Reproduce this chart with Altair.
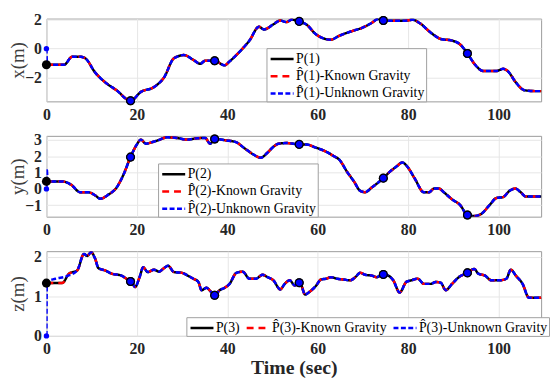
import altair as alt
import pandas as pd

# ---------------- data ----------------
T1 = [0, 3.9, 5.7, 7.5, 8.6, 10.8, 13, 15.5, 18.6, 20.9, 23.8, 26, 28.2, 30.4, 32.5, 34, 35.1,
      37.2, 39.4, 40.5, 42.7, 44.9, 47, 48.1, 50.3, 51.7, 53.1, 54.2, 55.9, 57.5, 59.6, 61.1,
      62.9, 64.7, 67.6, 69.8, 71.9, 73.4, 74.5, 76.3, 79.2, 81, 82.5, 85, 87.2, 89.7, 91.5,
      93.1, 94.8, 96.6, 99.5, 101, 102, 103.8, 105.7, 108.2, 111.4]
X1 = [-1.1, -1.1, -0.55, -0.55, -0.66, -1.64, -2.3, -2.84, -3.56, -2.95, -2.62, -1.97, -0.66,
      -0.44, -0.77, -1.03, -0.83, -0.83, -1.14, -0.87, -0.22, 0.55, 1.49, 1.31, 1.68, 1.92,
      1.81, 1.97, 1.86, 1.64, 0.98, 0.72, 0.61, 0.87, 1.2, 1.42, 1.75, 2.03, 1.92, 1.9, 1.9,
      1.97, 1.75, 1.09, 0.66, 0.55, 0.28, -0.33, -1.1, -1.53, -1.53, -1.38, -1.53, -2.3,
      -2.84, -2.9, -2.9]

T2 = [0, 3.5, 5.4, 7.5, 9.3, 10.8, 11.9, 13.7, 15.5, 17, 18.6, 19.9, 20.9, 22, 23.2, 24.6,
      26.7, 28.9, 31.1, 33.3, 35.1, 36.2, 37.2, 39.8, 41.9, 43.8, 45.6, 47.4, 48.8, 50.2,
      51.3, 53.1, 55.9, 57.5, 59.6, 61.8, 63.6, 64.7, 66.5, 68, 69.4, 70.5, 72, 74.5, 75.9,
      77.4, 78.7, 79.9, 81.4, 83.5, 84.6, 85.7, 86.8, 87.9, 89.7, 91.5, 93.1, 94.8, 96.2,
      98, 99.5, 101, 102.4, 103.7, 104.9, 106, 108.2, 111.4]
Y2 = [0.46, 0.46, 0.27, -0.21, -0.21, -0.4, -0.6, -0.35, 0.08, 0.85, 1.95, 2.68, 3.02, 2.77,
      2.85, 2.97, 3.16, 3.12, 3.02, 3.1, 3.12, 2.77, 3.06, 2.97, 2.87, 2.49, 2.14, 1.91, 2.2,
      2.58, 2.77, 2.81, 2.73, 2.72, 2.53, 2.29, 2.0, 1.81, 1.04, 0.46, -0.12, -0.2, 0.1,
      0.66, 1.04, 1.37, 1.62, 1.33, 0.66, -0.21, -0.21, 0.02, 0.02, -0.21, -0.64, -0.99,
      -1.6, -1.66, -1.52, -0.99, -0.56, -0.5, -0.12, 0.02, -0.21, -0.46, -0.46, -0.46]

T3 = [0, 3.5, 5, 6.8, 8.3, 9, 9.9, 10.8, 11.5, 13, 14.4, 16.6, 17.7, 18.8, 19.6, 20.6, 21.4,
      22.4, 23.8, 24.9, 26, 26.9, 28.2, 30, 31.4, 32.5, 33.6, 34.3, 35.4, 36.3, 37.2, 38.3,
      39.4, 40.5, 42, 43.4, 44.9, 46.3, 47.8, 48.9, 50.2, 51.7, 52.7, 53.8, 54.9, 55.9,
      56.4, 57.2, 58.2, 59.6, 60.7, 61.8, 62.9, 64.3, 65.8, 67.2, 68.3, 69.4, 70.5, 72, 73,
      74.5, 75.6, 76.7, 78.1, 79.6, 80.7, 82.1, 83.5, 85, 86.1, 87.2, 88.3, 89.7, 91.2,
      93.1, 94.6, 95.5, 97, 98.4, 100.2, 101.7, 102.7, 103.8, 105.3, 106.7, 108.2, 111.4]
Z3 = [1.34, 1.34, 1.58, 1.66, 2.08, 2.03, 2.12, 1.95, 1.72, 1.66, 1.58, 1.53, 1.45, 1.38,
      1.24, 1.49, 1.74, 1.62, 1.68, 1.63, 1.72, 1.78, 1.62, 1.6, 1.52, 1.45, 1.37, 1.16,
      1.22, 1.13, 1.03, 1.16, 1.22, 1.32, 1.6, 1.63, 1.45, 1.45, 1.55, 1.49, 1.41, 1.18,
      1.32, 1.41, 1.28, 1.35, 1.27, 1.05, 1.12, 1.27, 1.43, 1.45, 1.49, 1.45, 1.43, 1.41,
      1.49, 1.6, 1.55, 1.53, 1.49, 1.56, 1.53, 1.41, 1.1, 1.37, 1.41, 1.45, 1.32, 1.32,
      1.37, 1.35, 1.16, 1.32, 1.49, 1.6, 1.7, 1.58, 1.53, 1.41, 1.41, 1.45, 1.68, 1.53,
      1.32, 0.97, 0.97, 0.97]

# start of the "unknown gravity" estimates (before they meet the true path)
UT1, UV1 = [0, 0.15], [0.0, -1.1]
UT2, UV2 = [0, 0.05, 0.3], [0.0, 1.25, 0.46]
UT3, UV3 = [0, 0.1, 2, 4.6, 6.8], [0.0, 1.38, 1.45, 1.52, 1.66]

# marker positions
MARK_T = [0, 18.6, 37.2, 55.9, 74.5, 93.1]
MARK_X = [-1.1, -3.56, -0.83, 1.86, 1.92, -0.33]
MARK_Y = [0.46, 1.95, 3.06, 2.73, 0.66, -1.6]
MARK_Z = [1.34, 1.38, 1.03, 1.35, 1.56, 1.6]

SERIES = ["P({i})", "P\u0302({i})-Known Gravity", "P\u0302({i})-Unknown Gravity"]
COLORS = ["#000000", "#ff0000", "#0000ff"]
DASHES = [[1, 0], [7, 5], [5, 2.5]]

SERIF = "Liberation Serif"
PLOT_W = 502
XMAX = 109.4
LEG_SYMBOL = "M-0.8,0H1.94"   # legend line sample, ~23 px long


def panel(i, T, V, UT, UV, MV, ytitle, ydom, yticks, height, legend, xtitle=None):
    labels = [s.format(i=i) for s in SERIES]
    unk_t = UT + [t for t in T if t > UT[-1]]
    unk_v = UV + [v for t, v in zip(T, V) if t > UT[-1]]
    dfs = [
        pd.DataFrame({"t": T, "v": V, "s": labels[0]}),
        pd.DataFrame({"t": T, "v": V, "s": labels[1]}),
        pd.DataFrame({"t": unk_t, "v": unk_v, "s": labels[2]}),
    ]
    xaxis = alt.Axis(values=[0, 20, 40, 60, 80, 100], labelFont=SERIF, labelFontWeight="bold",
                     labelFontSize=16, labelColor="#262626", labelPadding=5, labelFlush=False,
                     ticks=False, domain=False, gridColor="#e6e6e6",
                     titleFont=SERIF, titleFontWeight="bold", titleFontSize=20,
                     titleColor="#262626", titlePadding=1)
    yaxis = alt.Axis(values=yticks, labelFont=SERIF, labelFontWeight="bold",
                     labelFontSize=16, labelColor="#262626", labelPadding=5, labelFlush=False,
                     ticks=False, domain=False, gridColor="#e6e6e6",
                     titleFont=SERIF, titleFontWeight="normal", titleFontSize=19,
                     titleColor="#404040", titleX=-29.5, titleY=height / 2,
                     titleAlign="center", titleBaseline="middle", titleAngle=270)
    if xtitle:
        x = alt.X("t:Q", scale=alt.Scale(domain=[0, XMAX], nice=False, zero=False),
                  axis=xaxis, title=xtitle)
    else:
        x = alt.X("t:Q", scale=alt.Scale(domain=[0, XMAX], nice=False, zero=False),
                  axis=xaxis, title=None)
    y = alt.Y("v:Q", scale=alt.Scale(domain=ydom, nice=False, zero=False), axis=yaxis,
              title=ytitle)
    color = alt.Color("s:N", scale=alt.Scale(domain=labels, range=COLORS), legend=legend,
                      title=None)
    dash = alt.StrokeDash("s:N", scale=alt.Scale(domain=labels, range=DASHES), legend=legend,
                          title=None)
    layers = []
    for df in dfs:
        layers.append(alt.Chart(df).mark_line(strokeWidth=2.5, clip=True,
                                               interpolate="monotone")
                      .encode(x=x, y=y, color=color, strokeDash=dash))
    mk = pd.DataFrame({"t": MARK_T, "v": MV})
    mk_blue = pd.DataFrame({"t": MARK_T[1:], "v": MV[1:]})
    mk_start = pd.DataFrame({"t": [UT[0]], "v": [UV[0]]})
    layers.append(alt.Chart(mk).mark_point(shape="circle", filled=True, size=85,
                                           color="#000000", opacity=1)
                  .encode(x=x, y=y))
    layers.append(alt.Chart(mk_blue).mark_point(shape="circle", filled=True, size=62,
                                                fill="#0000ff", stroke="#000000",
                                                strokeWidth=1.2, opacity=1)
                  .encode(x=x, y=y))
    layers.append(alt.Chart(mk_start).mark_point(shape="circle", filled=True, size=30,
                                                 color="#0000ff", opacity=1)
                  .encode(x=x, y=y))
    return alt.layer(*layers).properties(width=PLOT_W, height=height)


def make_legend(lx, ly, horizontal=False):
    kw = dict(orient="none", legendX=lx, legendY=ly, symbolType=LEG_SYMBOL,
              symbolStrokeWidth=2.5, symbolSize=289, labelFont=SERIF, labelFontSize=14,
              labelColor="#000000", labelOffset=9, padding=1, rowPadding=0.5,
              strokeColor="#a0a0a0", fillColor="#ffffff", labelLimit=400)
    if horizontal:
        kw.update(direction="horizontal", columnPadding=1)
    return alt.Legend(**kw)


H1, H2, H3 = 84, 82, 86
p1 = panel(1, T1, X1, UT1, UV1, MARK_X, "x(m)", [-3.6, 2.05], [-2, 0, 2], H1,
           make_legend(223.3, H1 - 54))
p2 = panel(2, T2, Y2, UT2, UV2, MARK_Y, "y(m)", [-1.7, 3.25], [-1, 0, 1, 2, 3], H2,
           make_legend(113.3, H2 - 54))
p3 = panel(3, T3, Z3, UT3, UV3, MARK_Z, "z(m)", [0, 2.15], [0, 1, 2], H3,
           make_legend(142, H3 - 19, horizontal=True), xtitle="Time (sec)")

chart = (alt.vconcat(p1, p2, p3, spacing=35, bounds="flush")
         .resolve_scale(color="independent", strokeDash="independent")
         .resolve_legend(color="independent", strokeDash="independent")
         .properties(padding={"left": 0, "top": 0, "right": 0, "bottom": 0})
         .configure_view(stroke="#9a9a9a", strokeWidth=1))

chart.save("out.html", embed_options={"renderer": "svg", "actions": False})
